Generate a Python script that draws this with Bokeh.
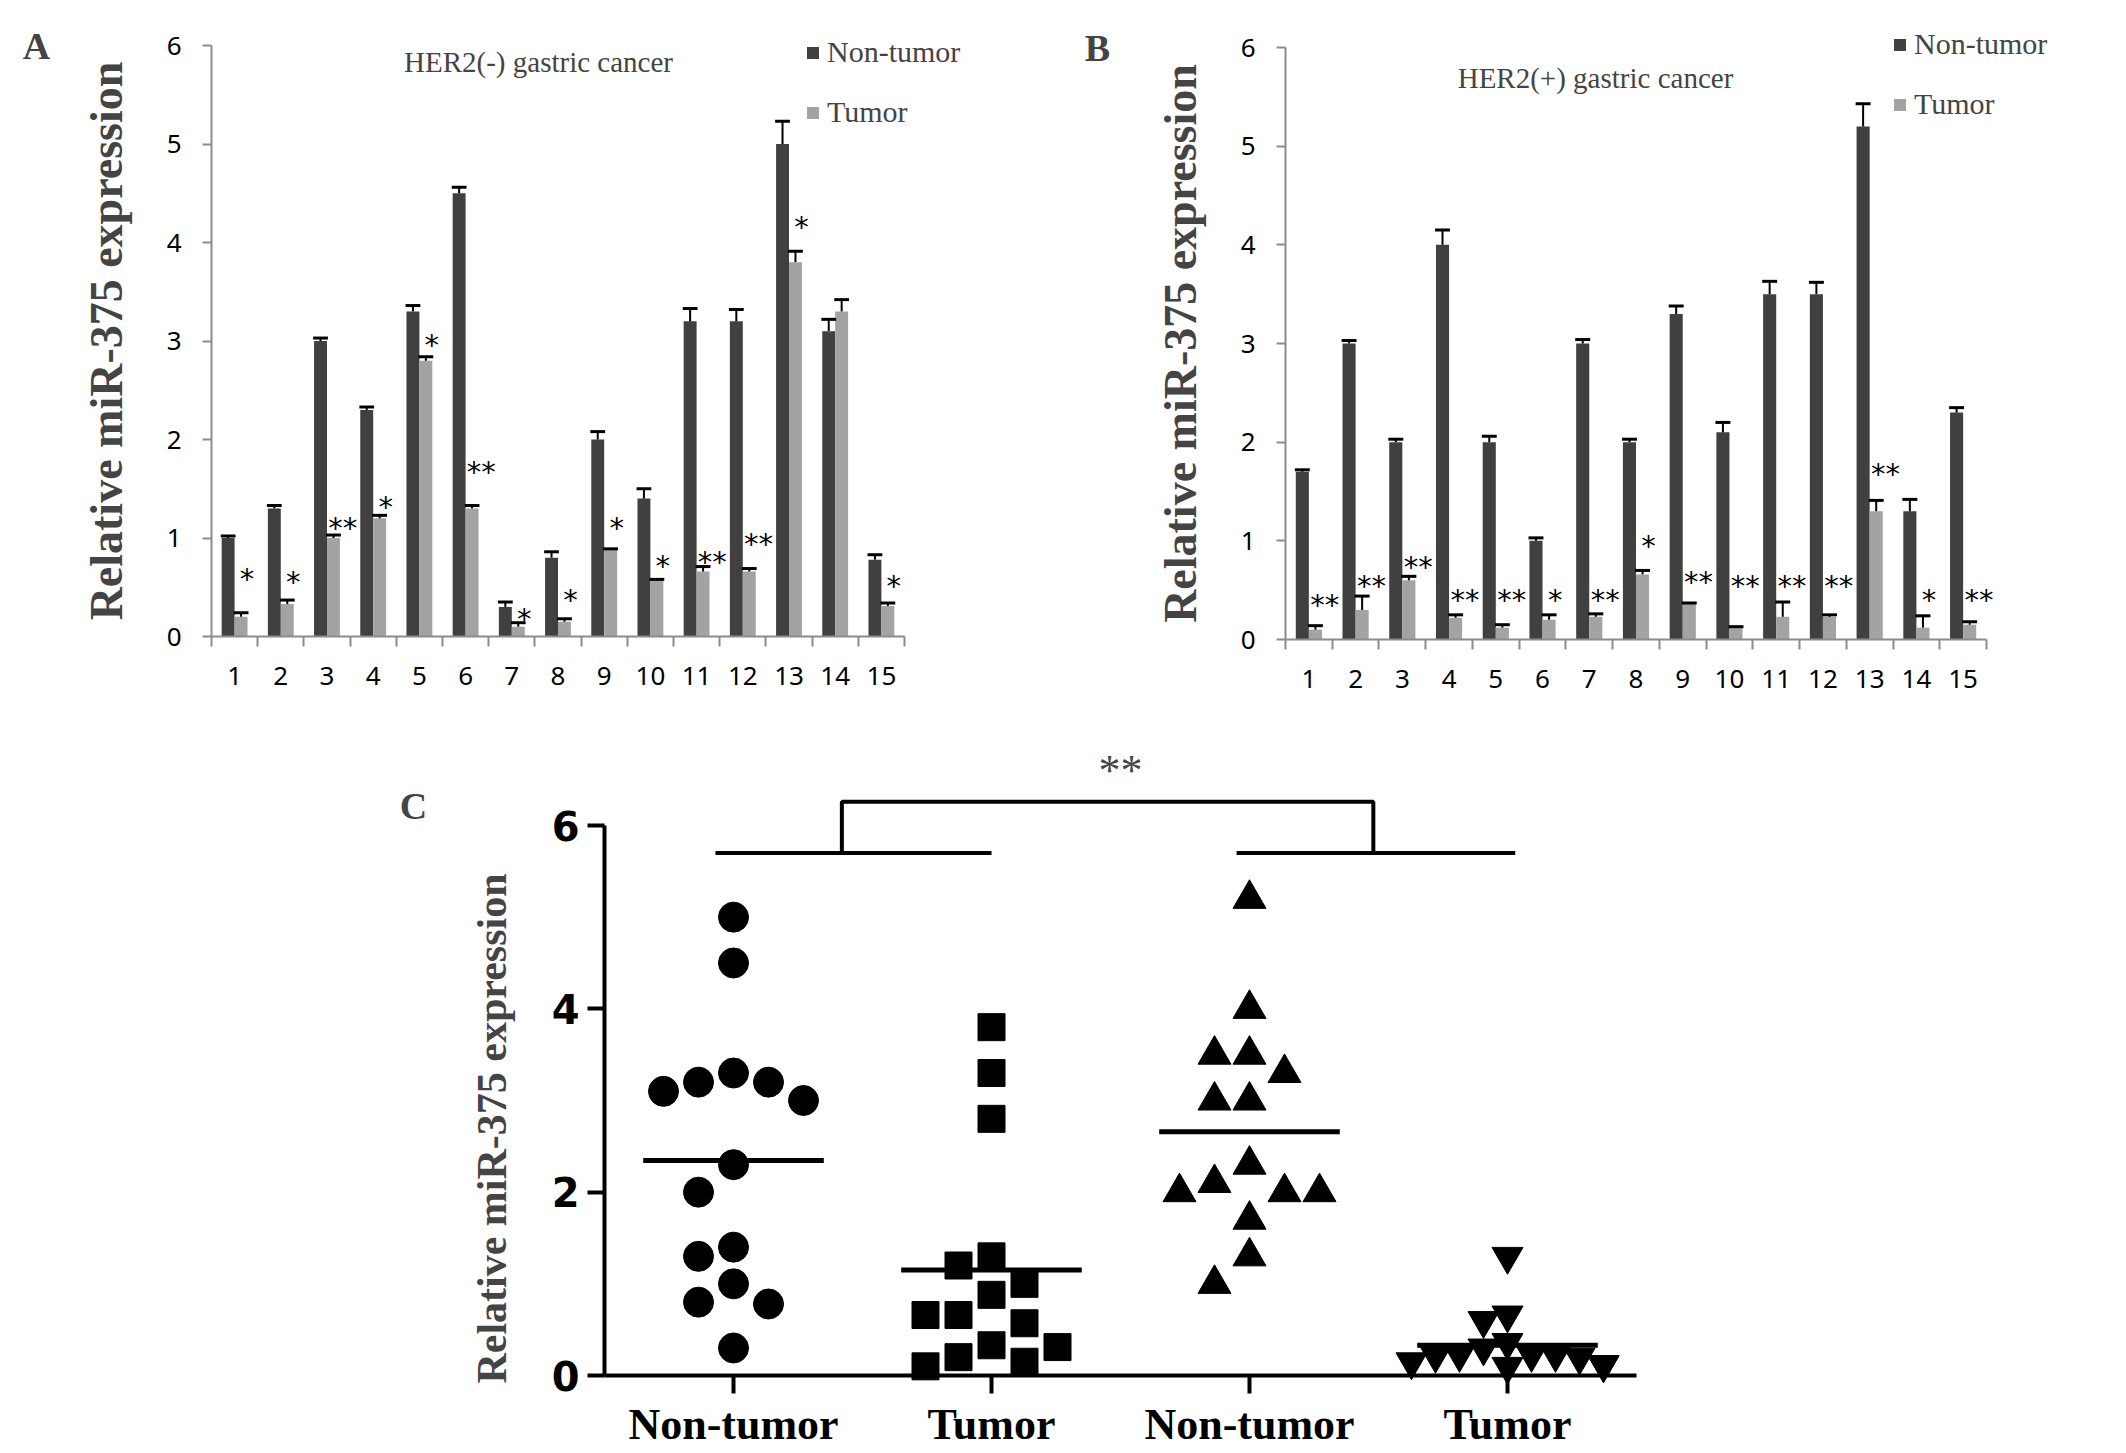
from bokeh.plotting import figure
from bokeh.layouts import column, row
from bokeh.models import Legend, LegendItem, Label, FixedTicker
from bokeh.core.properties import value
from bokeh.embed import file_html
from bokeh.resources import INLINE
import numpy as np

# per-sample relative miR-375 expression
samples = list(range(1, 16))

neg_nontumor = [1.0, 1.3, 3.0, 2.3, 3.3, 4.5, 0.3, 0.8, 2.0, 1.4, 3.2, 3.2, 5.0, 3.1, 0.78]
neg_nontumor_err = [0.02, 0.03, 0.03, 0.03, 0.06, 0.06, 0.05, 0.06, 0.08, 0.10, 0.13, 0.12, 0.23, 0.12, 0.05]
neg_tumor = [0.2, 0.33, 1.0, 1.2, 2.8, 1.3, 0.1, 0.15, 0.88, 0.57, 0.66, 0.66, 3.8, 3.3, 0.31]
neg_tumor_err = [0.04, 0.04, 0.03, 0.03, 0.04, 0.03, 0.04, 0.03, 0.01, 0.01, 0.05, 0.03, 0.11, 0.12, 0.03]
neg_stars = ["*", "*", "**", "*", "*", "**", "*", "*", "*", "*", "**", "**", "*", "", "*"]
neg_star_y = [0.65, 0.62, 1.17, 1.39, 3.03, 1.74, 0.25, 0.44, 1.17, 0.79, 0.83, 1.01, 4.23, 0.0, 0.58]

pos_nontumor = [1.7, 3.0, 2.0, 4.0, 2.0, 1.0, 3.0, 2.0, 3.3, 2.1, 3.5, 3.5, 5.2, 1.3, 2.3]
pos_nontumor_err = [0.02, 0.03, 0.03, 0.15, 0.06, 0.03, 0.04, 0.03, 0.08, 0.10, 0.13, 0.12, 0.23, 0.12, 0.05]
pos_tumor = [0.1, 0.3, 0.6, 0.22, 0.12, 0.2, 0.23, 0.66, 0.36, 0.12, 0.23, 0.23, 1.3, 0.12, 0.15]
pos_tumor_err = [0.04, 0.14, 0.04, 0.03, 0.03, 0.05, 0.03, 0.04, 0.01, 0.01, 0.15, 0.02, 0.11, 0.12, 0.03]
pos_stars = ["**", "**", "**", "**", "**", "*", "**", "*", "**", "**", "**", "**", "**", "*", "**"]
pos_star_y = [0.42, 0.61, 0.81, 0.47, 0.47, 0.47, 0.47, 1.02, 0.65, 0.61, 0.61, 0.61, 1.75, 0.47, 0.47]

group_labels = ["Non-tumor", "Tumor", "Non-tumor", "Tumor"]

DARK = "#404040"
LIGHT = "#a3a3a3"
AXIS_GRAY = "#8c8c8c"
SERIF = "Liberation Serif"
SANS = "Noto Sans"
YLABEL = "Relative miR-375 expression"


class Frame:
    """Figure whose frame fills the canvas; maps the data box onto a pixel box."""

    def __init__(self, width, height, box, xdom, ydom):
        l, t, r, b = box
        self.kx = (xdom[1] - xdom[0]) / (r - l)
        self.ky = (ydom[1] - ydom[0]) / (b - t)
        self.x0 = xdom[0] - l * self.kx
        self.y1 = ydom[1] + t * self.ky
        x_range = (self.x0, xdom[1] + (width - r) * self.kx)
        y_range = (ydom[0] - (height - b) * self.ky, self.y1)
        self.p = figure(width=width, height=height, x_range=x_range, y_range=y_range,
                        output_backend="svg", toolbar_location=None, min_border=0)
        self.p.xgrid.visible = False
        self.p.ygrid.visible = False
        self.p.outline_line_color = None

    def at(self, px, py):
        return self.x0 + px * self.kx, self.y1 - py * self.ky


def bar_panel(box, nt, nt_err, tu, tu_err, stars, star_y, title, letter,
              title_px, letter_px, legend_loc):
    f = Frame(1063, 700, box, (0.5, 15.5), (0, 6))
    p = f.p

    cats = np.array(samples, dtype=float)
    nt = np.array(nt); tu = np.array(tu)
    nt_top = nt + np.array(nt_err)
    tu_top = tu + np.array(tu_err)

    r_nt = p.vbar(x=cats - 0.14, top=nt, width=0.28, fill_color=DARK, line_color=None)
    r_tu = p.vbar(x=cats + 0.14, top=tu, width=0.28, fill_color=LIGHT, line_color=None)

    for xs, lo, hi in [(cats - 0.14, nt, nt_top), (cats + 0.14, tu, tu_top)]:
        p.segment(x0=xs, y0=lo, x1=xs, y1=hi, line_color="black", line_width=2)
        p.segment(x0=xs - 0.16, y0=hi, x1=xs + 0.16, y1=hi, line_color="black", line_width=3)

    star_x = [c + (0.27 if len(s) == 1 else 0.34) for c, s in zip(samples, stars)]
    p.text(x=star_x, y=star_y, text=stars, text_align="center", text_baseline="middle",
           text_font=value("DejaVu Sans"), text_font_size="29px", text_color="black", y_offset=7)

    p.xaxis.fixed_location = 0
    p.xaxis.bounds = (0.5, 15.5)
    p.xaxis.ticker = FixedTicker(ticks=samples, minor_ticks=[i + 0.5 for i in range(16)])
    p.xaxis.major_tick_out = 0
    p.xaxis.major_tick_in = 0
    p.xaxis.minor_tick_out = 10
    p.xaxis.minor_tick_in = 0
    p.xaxis.minor_tick_line_color = AXIS_GRAY
    p.xaxis.minor_tick_line_width = 2
    p.xaxis.major_label_standoff = 20

    p.yaxis.fixed_location = 0.5
    p.yaxis.bounds = (0, 6)
    p.yaxis.ticker = FixedTicker(ticks=[0, 1, 2, 3, 4, 5, 6], minor_ticks=[])
    p.yaxis.major_tick_out = 9
    p.yaxis.major_tick_in = 0
    p.yaxis.major_label_standoff = 21
    p.yaxis.axis_label = YLABEL
    p.yaxis.axis_label_text_font = SERIF
    p.yaxis.axis_label_text_font_style = "bold"
    p.yaxis.axis_label_text_font_size = "46px"
    p.yaxis.axis_label_standoff = 32

    for ax in (p.xaxis, p.yaxis):
        ax.axis_line_color = AXIS_GRAY
        ax.axis_line_width = 2
        ax.major_tick_line_color = AXIS_GRAY
        ax.major_tick_line_width = 2
        ax.major_label_text_font = SANS
        ax.major_label_text_font_size = "26px"
        ax.major_label_text_color = "black"

    tx, ty = f.at(*title_px)
    p.add_layout(Label(x=tx, y=ty, text=title, text_align="center", text_baseline="middle",
                       text_font=SERIF, text_font_size="29px"))
    lx, ly = f.at(*letter_px)
    p.add_layout(Label(x=lx, y=ly, text=letter, text_align="center", text_baseline="middle",
                       text_font=SERIF, text_font_style="bold", text_font_size="38px"))

    legend = Legend(items=[LegendItem(label="Non-tumor", renderers=[r_nt]),
                           LegendItem(label="Tumor", renderers=[r_tu])],
                    location=legend_loc, orientation="vertical",
                    glyph_width=15, glyph_height=15, label_standoff=7,
                    label_text_font=SERIF, label_text_font_size="30px",
                    label_height=32, spacing=26, padding=0, margin=0,
                    border_line_color=None, background_fill_alpha=0)
    p.add_layout(legend)
    return p


pA = bar_panel((211, 45, 904, 636), neg_nontumor, neg_nontumor_err, neg_tumor, neg_tumor_err,
               neg_stars, neg_star_y, "HER2(-) gastric cancer", "A", (538, 61), (36, 45), (805, 571))
pB = bar_panel((222, 47, 923, 639), pos_nontumor, pos_nontumor_err, pos_tumor, pos_tumor_err,
               pos_stars, pos_star_y, "HER2(+) gastric cancer", "B", (532, 77), (34, 47), (829, 579))


# ---- panel C: scatter with group means ----
def swarm(vals, center, step_px, xscale, yscale):
    vals = np.asarray(vals, dtype=float)
    order = np.argsort(-vals)
    placed = []
    xs = np.zeros(len(vals))
    for i in order:
        y = vals[i] * yscale
        for k in [0, -1, 1, -2, 2, -3, 3, -4, 4]:
            x = k * step_px
            if all((x - px) ** 2 + (y - py) ** 2 >= (step_px * 0.98) ** 2 for px, py in placed):
                break
        placed.append((x, y))
        xs[i] = center + x / xscale
    return xs


fC = Frame(1800, 752, (604, 125, 1636, 675), (0.5, 4.5), (0, 6))
pC = fC.p

groups = [neg_nontumor, neg_tumor, pos_nontumor, pos_tumor]
markers = ["circle", "square", "triangle", "inverted_triangle"]
msizes = [30, 27, 33, 31]
steps = [35, 33, 35, 24]
for gi, (vals, mk, ms, st) in enumerate(zip(groups, markers, msizes, steps)):
    c = gi + 1
    xs = swarm(vals, c, st, 1 / fC.kx, 1 / fC.ky)
    pC.scatter(x=xs, y=vals, marker=mk, size=ms, fill_color="black", line_color="black")
    m = float(np.mean(vals))
    pC.segment(x0=c - 0.35, y0=m, x1=c + 0.35, y1=m, line_color="black", line_width=5)

# significance bracket
pC.multi_line(xs=[[0.93, 2.0], [2.95, 4.03], [1.42, 1.42, 3.48, 3.48]],
              ys=[[5.7, 5.7], [5.7, 5.7], [5.7, 6.26, 6.26, 5.7]],
              line_color="black", line_width=4)
sx, sy = fC.at(1120, 70)
pC.add_layout(Label(x=sx, y=sy, text="**", text_align="center", text_baseline="middle",
                    text_font=SERIF, text_font_size="44px"))
cx, cy = fC.at(413, 105)
pC.add_layout(Label(x=cx, y=cy, text="C", text_align="center", text_baseline="middle",
                    text_font=SERIF, text_font_style="bold", text_font_size="38px"))
yx, yy = fC.at(491, 428)
pC.add_layout(Label(x=yx, y=yy, text=YLABEL, angle=np.pi / 2, text_align="center",
                    text_baseline="middle", text_font=SERIF, text_font_style="bold",
                    text_font_size="42px"))

pC.xaxis.fixed_location = 0
pC.xaxis.bounds = (0.5, 4.5)
pC.xaxis.ticker = FixedTicker(ticks=[1, 2, 3, 4], minor_ticks=[])
pC.xaxis.major_label_overrides = {i + 1: lab for i, lab in enumerate(group_labels)}
pC.xaxis.major_tick_out = 18
pC.xaxis.major_tick_in = 0
pC.xaxis.major_label_standoff = 6
pC.xaxis.major_label_text_font = SERIF
pC.xaxis.major_label_text_font_style = "bold"
pC.xaxis.major_label_text_font_size = "44px"

pC.yaxis.fixed_location = 0.5
pC.yaxis.bounds = (0, 6)
pC.yaxis.ticker = FixedTicker(ticks=[0, 2, 4, 6], minor_ticks=[])
pC.yaxis.major_tick_out = 17
pC.yaxis.major_tick_in = 0
pC.yaxis.major_label_standoff = 8
pC.yaxis.major_label_text_font = "DejaVu Sans"
pC.yaxis.major_label_text_font_style = "bold"
pC.yaxis.major_label_text_font_size = "40px"

for ax in (pC.xaxis, pC.yaxis):
    ax.axis_line_color = "black"
    ax.axis_line_width = 4
    ax.major_tick_line_color = "black"
    ax.major_tick_line_width = 4
    ax.major_label_text_color = "black"

layout = column(row(pA, pB), pC)

open("out.html", "w").write(file_html(layout, INLINE))
